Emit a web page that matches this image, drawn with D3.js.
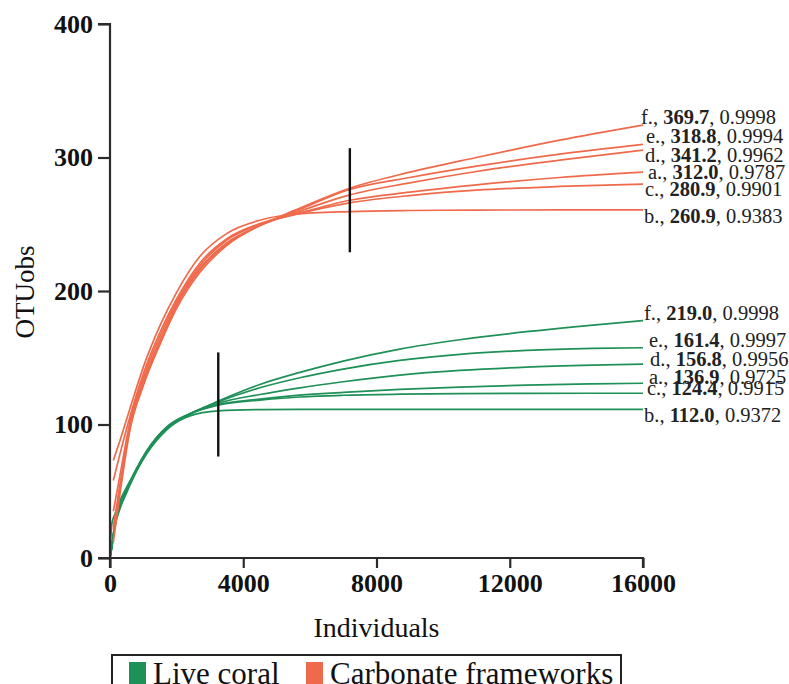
<!DOCTYPE html>
<html>
<head>
<meta charset="utf-8">
<script src="https://cdn.jsdelivr.net/npm/d3@7"></script>
<style>
  html, body { margin: 0; padding: 0; background: #fff; }
  svg { display: block; font-family: "Liberation Serif", "Times New Roman", serif; }
</style>
</head>
<body>
<svg id="chart" width="789" height="684"></svg>
<script>
// Rarefaction curves: observed OTUs vs number of individuals
const xTicks = [0, 4000, 8000, 12000, 16000];
const yTicks = [0, 100, 200, 300, 400];

// sampling effort (individuals) at which each curve is evaluated
const coralX = [0, 50, 150, 300, 500, 800, 1100, 1700, 2400, 3250, 4500, 5700, 7000, 8700, 10500, 12500, 14500, 16000];
const frameX = [100, 300, 600, 1000, 1500, 2000, 2700, 3500, 4500, 5500, 7200, 9000, 11000, 13500, 16000];

// Live coral samples
const coralNames = ["f", "e", "d", "a", "c", "b"];
const coralEst = ["219.0", "161.4", "156.8", "136.9", "124.4", "112.0"];
const coralFit = ["0.9998", "0.9997", "0.9956", "0.9725", "0.9915", "0.9372"];
const coralF = [0, 7, 24, 37, 49, 65, 78, 96, 107.5, 117.5, 130, 139, 147.5, 156.5, 163.5, 169.5, 174.5, 177.8];
const coralE = [0, 8, 25, 38, 50, 66, 79, 97, 108, 117, 127.5, 135, 141.5, 148, 152.5, 155.5, 157, 157.5];
const coralD = [0, 8, 26, 39, 50, 66, 79, 97, 108, 116, 122.5, 127.5, 132, 137, 140.5, 143, 144.5, 145.3];
const coralA = [0, 8, 26, 40, 51, 67, 80, 98, 108, 115, 119, 122, 124, 126.3, 128, 129.5, 130.4, 130.9];
const coralC = [0, 8, 26, 40, 51, 67, 80, 98, 108, 114.5, 118.3, 120.6, 121.9, 122.7, 123.1, 123.3, 123.4, 123.4];
const coralB = [0, 25, 33, 43, 53, 67, 80, 97, 106.5, 110.2, 111.2, 111.4, 111.4, 111.4, 111.4, 111.4, 111.4, 111.4];

// Carbonate framework samples
const frameNames = ["f", "e", "d", "a", "c", "b"];
const frameEst = ["369.7", "318.8", "341.2", "312.0", "280.9", "260.9"];
const frameFit = ["0.9998", "0.9994", "0.9962", "0.9787", "0.9901", "0.9383"];
const frameF = [12, 48, 96, 129, 160, 187, 214, 234, 249, 260, 277, 289, 300, 313, 324.3];
const frameE = [21, 53, 98, 131, 162, 189, 216, 235, 249, 259, 276, 285, 293.5, 302.5, 309.8];
const frameD = [23, 55, 99, 132, 163, 190, 217, 236, 249, 258, 272, 281, 289.5, 298, 305.5];
const frameA = [35, 62, 102, 135, 166, 192, 219, 238, 250, 257, 268, 274, 279.5, 285, 289];
const frameC = [58, 78, 106, 138, 169, 194, 221, 239, 250.5, 257, 266, 271.5, 275.5, 278.3, 280.1];
const frameB = [73, 88, 112, 143, 174, 199, 226, 243, 253, 257.5, 259.5, 260.3, 260.6, 260.8, 260.8];

// vertical bars marking the sample-size range for each habitat
const markerX = [3250, 7200];
const markerLow = [76, 229];
const markerHigh = [154, 307];

const legendLabels = ["Live coral", "Carbonate frameworks"];

// ---- layout & style ----
const green = "#1f9058";
const orange = "#ef6a4b";
const axisColor = "#2b2b2b";
const margin = { left: 110, top: 24 };
const plotW = 533, plotH = 534;

// label offsets (px) so the annotation text does not collide
const frameNudge = { f: [-3, -8], e: [2, -9], d: [1, 5], a: [4, 0], c: [1, 5], b: [0, 6] };
const coralNudge = { f: [0, -8], e: [5, -8], d: [6, -5], a: [5, -6], c: [3, -5], b: [0, 6] };

const svg = d3.select("#chart");
const g = svg.append("g").attr("transform", `translate(${margin.left},${margin.top})`);

const x = d3.scaleLinear().domain([0, 16000]).range([0, plotW]);
const y = d3.scaleLinear().domain([0, 400]).range([plotH, 0]);

const line = d3.line().x(d => x(d[0])).y(d => y(d[1])).curve(d3.curveMonotoneX);

function drawGroup(xs, seriesList, names, est, fit, color, nudge) {
  seriesList.forEach((vals, i) => {
    const pts = xs.map((xv, j) => [xv, vals[j]]);
    g.append("path")
      .datum(pts)
      .attr("d", line)
      .attr("fill", "none")
      .attr("stroke", color)
      .attr("stroke-width", 1.7);
    const last = pts[pts.length - 1];
    const n = nudge[names[i]];
    const t = g.append("text")
      .attr("x", x(last[0]) + 1 + n[0])
      .attr("y", y(last[1]) + n[1])
      .attr("dy", "0.35em")
      .attr("font-size", 20.5)
      .attr("fill", "#222");
    t.append("tspan").text(names[i] + "., ");
    t.append("tspan").attr("font-weight", "bold").text(est[i]);
    t.append("tspan").text(", " + fit[i]);
  });
}

drawGroup(coralX, [coralF, coralE, coralD, coralA, coralC, coralB],
  coralNames, coralEst, coralFit, green, coralNudge);
drawGroup(frameX, [frameF, frameE, frameD, frameA, frameC, frameB],
  frameNames, frameEst, frameFit, orange, frameNudge);

// range markers
markerX.forEach((mx, i) => {
  g.append("line")
    .attr("x1", x(mx)).attr("x2", x(mx))
    .attr("y1", y(markerLow[i])).attr("y2", y(markerHigh[i]))
    .attr("stroke", "#111")
    .attr("stroke-width", 2.4);
});

// axes
const xAxis = g.append("g")
  .attr("transform", `translate(0,${plotH})`)
  .call(d3.axisBottom(x).tickValues(xTicks).tickSize(10).tickPadding(6).tickFormat(d3.format("d")));
const yAxis = g.append("g")
  .call(d3.axisLeft(y).tickValues(yTicks).tickSize(12).tickPadding(5).tickFormat(d3.format("d")));

[xAxis, yAxis].forEach(ax => {
  ax.select(".domain").attr("stroke", axisColor).attr("stroke-width", 2.2);
  ax.selectAll(".tick line").attr("stroke", axisColor).attr("stroke-width", 2.2);
  ax.selectAll(".tick text")
    .attr("fill", "#111")
    .attr("font-family", "Liberation Serif, serif")
    .attr("font-size", 26)
    .attr("font-weight", "bold");
});
xAxis.select(".domain").attr("d", `M0,10V0H${plotW}V10`);
yAxis.select(".domain").attr("d", `M-12,0H0V${plotH}H-12`);

// axis titles
svg.append("text")
  .attr("x", margin.left + plotW / 2)
  .attr("y", 637)
  .attr("text-anchor", "middle")
  .attr("font-size", 28)
  .attr("fill", "#111")
  .text("Individuals");

svg.append("text")
  .attr("transform", `translate(34,${margin.top + 268}) rotate(-90)`)
  .attr("text-anchor", "middle")
  .attr("font-size", 27)
  .attr("fill", "#111")
  .text("OTUobs");

// legend
const legend = svg.append("g");
legend.append("rect")
  .attr("x", 112).attr("y", 655)
  .attr("width", 509).attr("height", 40)
  .attr("fill", "#fff")
  .attr("stroke", "#222")
  .attr("stroke-width", 2);

const legendColors = [green, orange];
const legendX = [129, 306];
legendLabels.forEach((lab, i) => {
  legend.append("rect")
    .attr("x", legendX[i]).attr("y", 662)
    .attr("width", 17).attr("height", 22)
    .attr("fill", legendColors[i]);
  legend.append("text")
    .attr("x", legendX[i] + 24)
    .attr("y", 684)
    .attr("font-size", 31)
    .attr("fill", "#111")
    .text(lab);
});
</script>
</body>
</html>
